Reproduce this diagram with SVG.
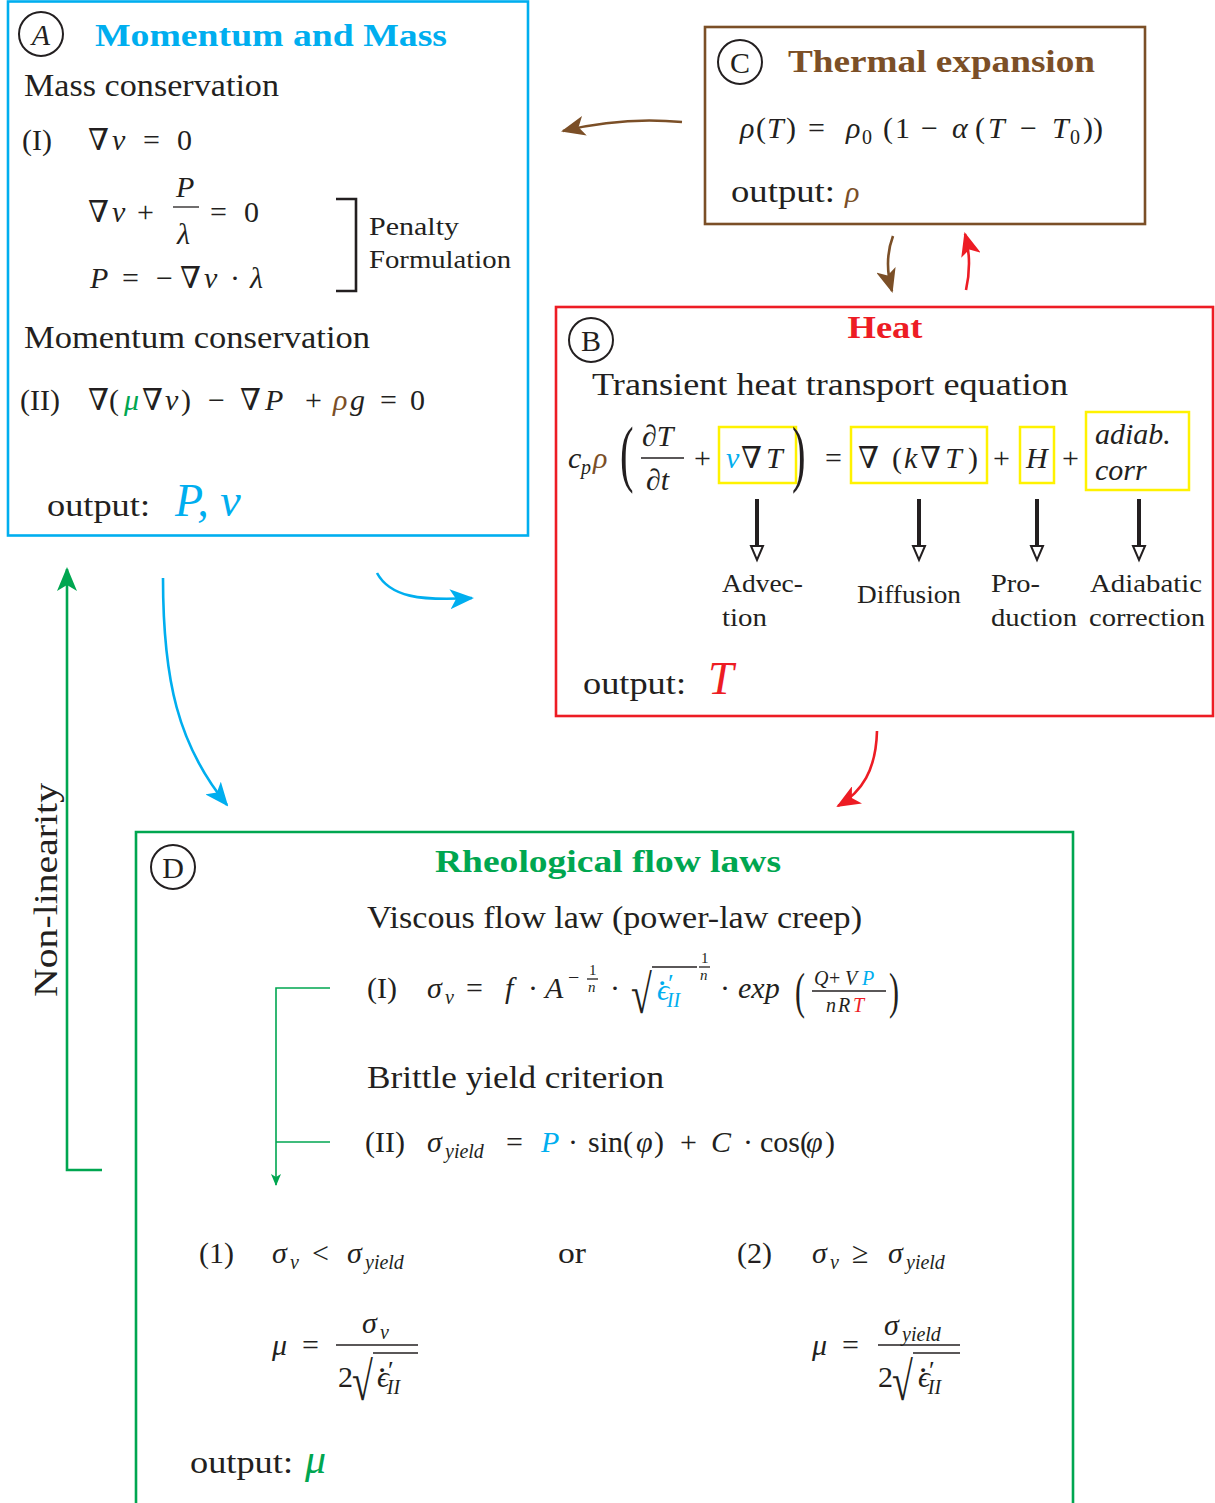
<svg xmlns="http://www.w3.org/2000/svg" width="1215" height="1503" viewBox="0 0 1215 1503">
<defs>
<style>
text{font-family:"Liberation Serif","DejaVu Serif",serif;fill:#231f20;font-size:30px}
.i{font-style:italic}
.h{font-weight:bold;font-size:31px}
.p{font-size:31px}
.s{font-size:20px}
.xs{font-size:15px}
.lab{font-size:25px}
.cy{fill:#00AEEF}
.br{fill:#7B4F27}
.rd{fill:#ED1C24}
.gr{fill:#00A650}
.circ{fill:none;stroke:#231f20;stroke-width:2}
.fr{stroke:#231f20;stroke-width:1.3}
.yb{fill:none;stroke:#FFF200;stroke-width:2.5}
.conn{fill:none;stroke-width:2.6}
.dot{font-size:24px;font-weight:bold}
.pr{font-size:26px;font-style:normal}
</style>
<marker id="ahC" viewBox="0 0 24 20" refX="22" refY="10" markerWidth="24" markerHeight="20" markerUnits="userSpaceOnUse" orient="auto"><path d="M0,0 L24,10 L0,20 L6,10 z" fill="#00AEEF"/></marker>
<marker id="ahB" viewBox="0 0 24 20" refX="22" refY="10" markerWidth="24" markerHeight="20" markerUnits="userSpaceOnUse" orient="auto"><path d="M0,0 L24,10 L0,20 L6,10 z" fill="#7B4F27"/></marker>
<marker id="ahR" viewBox="0 0 24 20" refX="22" refY="10" markerWidth="24" markerHeight="20" markerUnits="userSpaceOnUse" orient="auto"><path d="M0,0 L24,10 L0,20 L6,10 z" fill="#ED1C24"/></marker>
<marker id="ahG" viewBox="0 0 24 20" refX="22" refY="10" markerWidth="24" markerHeight="20" markerUnits="userSpaceOnUse" orient="auto"><path d="M0,0 L24,10 L0,20 L6,10 z" fill="#00A650"/></marker>
<marker id="ahGs" viewBox="0 0 12 10" refX="11" refY="5" markerWidth="12" markerHeight="10" markerUnits="userSpaceOnUse" orient="auto"><path d="M0,0 L12,5 L0,10 L3,5 z" fill="#00A650"/></marker>
</defs>
<rect width="1215" height="1503" fill="#fff"/>

<g id="nodeA">
<rect x="8" y="1.5" width="520" height="534" fill="none" stroke="#00AEEF" stroke-width="2.6"/>
<circle class="circ" cx="41" cy="34" r="22"/>
<text class="i" x="41" y="45" text-anchor="middle">A</text>
<text class="h cy" x="95" y="46" textLength="352" lengthAdjust="spacingAndGlyphs">Momentum and Mass</text>
<text class="p" x="24" y="96" textLength="255" lengthAdjust="spacingAndGlyphs">Mass conservation</text>
<text x="22" y="150">(I)</text>
<text x="88" y="150">∇</text><text class="i" x="112" y="150">v</text><text x="143" y="150">=</text><text x="177" y="150">0</text>
<text x="88" y="222">∇</text><text class="i" x="112" y="222">v</text><text x="137" y="222">+</text>
<text class="i" x="176" y="197">P</text><line class="fr" x1="173" y1="207" x2="199" y2="207"/><text class="i" x="177" y="244">λ</text>
<text x="210" y="222">=</text><text x="244" y="222">0</text>
<text class="i" x="90" y="288">P</text><text x="122" y="288">=</text><text x="156" y="288">−</text><text x="180" y="288">∇</text><text class="i" x="204" y="288">v</text><text x="230" y="288">·</text><text class="i" x="250" y="288">λ</text>
<path d="M336,199 H356 V291 H336" fill="none" stroke="#231f20" stroke-width="2.6"/>
<text class="lab" x="369" y="235" textLength="90" lengthAdjust="spacingAndGlyphs">Penalty</text>
<text class="lab" x="369" y="268" textLength="142" lengthAdjust="spacingAndGlyphs">Formulation</text>
<text class="p" x="24" y="348" textLength="346" lengthAdjust="spacingAndGlyphs">Momentum conservation</text>
<text x="20" y="410">(II)</text>
<text x="88" y="410">∇(</text><text class="i gr" x="124" y="410">μ</text><text x="142" y="410">∇</text><text class="i" x="165" y="410">v</text><text x="181" y="410">)</text>
<text x="208" y="410">−</text><text x="240" y="410">∇</text><text class="i" x="265" y="410">P</text><text x="305" y="410">+</text><text class="i br" x="333" y="410">ρ</text><text class="i" x="350" y="410">g</text><text x="380" y="410">=</text><text x="410" y="410">0</text>
<text class="p" x="47" y="516" textLength="103" lengthAdjust="spacingAndGlyphs">output:</text>
<text class="i cy" x="175" y="516" style="font-size:46px">P, v</text>
</g>

<g id="nodeC">
<rect x="705" y="27" width="440" height="197" fill="none" stroke="#7B4F27" stroke-width="2.6"/>
<circle class="circ" cx="740" cy="62" r="22"/>
<text x="740" y="73" text-anchor="middle">C</text>
<text class="h br" x="788" y="72" textLength="307" lengthAdjust="spacingAndGlyphs">Thermal expansion</text>
<text class="i" x="740" y="138">ρ</text><text x="756" y="138">(</text><text class="i" x="767" y="138">T</text><text x="786" y="138">)</text><text x="808" y="138">=</text>
<text class="i" x="846" y="138">ρ</text><text class="s" x="862" y="144">0</text><text x="883" y="138">(</text><text x="895" y="138">1</text><text x="921" y="138">−</text><text class="i" x="952" y="138">α</text><text x="975" y="138">(</text><text class="i" x="988" y="138">T</text><text x="1020" y="138">−</text><text class="i" x="1052" y="138">T</text><text class="s" x="1070" y="144">0</text><text x="1083" y="138">))</text>
<text class="p" x="731" y="202" textLength="104" lengthAdjust="spacingAndGlyphs">output:</text><text class="i br" x="845" y="202">ρ</text>
</g>

<g id="nodeB">
<rect x="556" y="307" width="657" height="409" fill="none" stroke="#ED1C24" stroke-width="2.6"/>
<circle class="circ" cx="591" cy="340" r="22"/>
<text x="591" y="351" text-anchor="middle">B</text>
<text class="h rd" x="885" y="338" text-anchor="middle" textLength="75" lengthAdjust="spacingAndGlyphs">Heat</text>
<text class="p" x="592" y="395" textLength="476" lengthAdjust="spacingAndGlyphs">Transient heat transport equation</text>
<text class="i" x="568" y="468">c</text><text class="i s" x="581" y="474">p</text><text class="i br" x="593" y="468">ρ</text>
<text x="620" y="478" transform="translate(620,478) scale(0.55,1) translate(-620,-478)" style="font-size:74px">(</text>
<text class="i" x="642" y="446">∂T</text><line class="fr" x1="641" y1="458" x2="684" y2="458"/><text class="i" x="646" y="490">∂t</text>
<text x="694" y="468">+</text>
<rect class="yb" x="719" y="427" width="77" height="56"/>
<text class="i cy" x="726" y="468">v</text><text x="741" y="468">∇</text><text class="i" x="766" y="468">T</text>
<text x="792" y="478" transform="translate(792,478) scale(0.55,1) translate(-792,-478)" style="font-size:74px">)</text>
<text x="825" y="468">=</text>
<rect class="yb" x="851" y="427" width="136" height="56"/>
<text x="858" y="468">∇</text><text x="892" y="468">(</text><text class="i" x="904" y="468">k</text><text x="920" y="468">∇</text><text class="i" x="945" y="468">T</text><text x="968" y="468">)</text>
<text x="993" y="468">+</text>
<rect class="yb" x="1020" y="427" width="34" height="56"/>
<text class="i" x="1026" y="468">H</text>
<text x="1062" y="468">+</text>
<rect class="yb" x="1086" y="412" width="103" height="78"/>
<text class="i" x="1095" y="444">adiab.</text><text class="i" x="1095" y="480">corr</text>
<g stroke="#231f20">
<line x1="757" y1="499" x2="757" y2="546" stroke-width="4"/><polygon points="751,546 763,546 757,560" fill="#fff" stroke-width="2"/>
<line x1="919" y1="499" x2="919" y2="546" stroke-width="4"/><polygon points="913,546 925,546 919,560" fill="#fff" stroke-width="2"/>
<line x1="1037" y1="499" x2="1037" y2="546" stroke-width="4"/><polygon points="1031,546 1043,546 1037,560" fill="#fff" stroke-width="2"/>
<line x1="1139" y1="499" x2="1139" y2="546" stroke-width="4"/><polygon points="1133,546 1145,546 1139,560" fill="#fff" stroke-width="2"/>
</g>
<text class="lab" x="722" y="592" textLength="81" lengthAdjust="spacingAndGlyphs">Advec-</text>
<text class="lab" x="722" y="626" textLength="45" lengthAdjust="spacingAndGlyphs">tion</text>
<text class="lab" x="857" y="603" textLength="104" lengthAdjust="spacingAndGlyphs">Diffusion</text>
<text class="lab" x="991" y="592" textLength="49" lengthAdjust="spacingAndGlyphs">Pro-</text>
<text class="lab" x="991" y="626" textLength="86" lengthAdjust="spacingAndGlyphs">duction</text>
<text class="lab" x="1090" y="592" textLength="112" lengthAdjust="spacingAndGlyphs">Adiabatic</text>
<text class="lab" x="1089" y="626" textLength="116" lengthAdjust="spacingAndGlyphs">correction</text>
<text class="p" x="583" y="694" textLength="103" lengthAdjust="spacingAndGlyphs">output:</text>
<text class="i rd" x="708" y="694" style="font-size:46px">T</text>
</g>

<g id="nodeD">
<path d="M136,1503 V832 H1073 V1503" fill="none" stroke="#00A650" stroke-width="2.6"/>
<circle class="circ" cx="173" cy="867" r="22"/>
<text x="173" y="878" text-anchor="middle">D</text>
<text class="h gr" x="435" y="872" textLength="346" lengthAdjust="spacingAndGlyphs">Rheological flow laws</text>
<text class="p" x="367" y="928" textLength="495" lengthAdjust="spacingAndGlyphs">Viscous flow law (power-law creep)</text>
<text x="367" y="998">(I)</text>
<text class="i" x="427" y="998">σ</text><text class="i s" x="445" y="1004">v</text><text x="466" y="998">=</text><text class="i" x="505" y="998">f</text><text x="528" y="998">·</text><text class="i" x="545" y="998">A</text>
<text class="s" x="568" y="984">−</text><text class="xs" x="589" y="975">1</text><line class="fr" x1="587" y1="979" x2="598" y2="979" stroke-width="1"/><text class="i xs" x="588" y="992">n</text>
<text x="610" y="998">·</text>
<text x="631" y="1013" transform="translate(631,1013) scale(1,1.42) translate(-631,-1013)" style="font-size:38px">√</text><line class="fr" x1="652" y1="967" x2="697" y2="967"/>
<text class="i cy" x="657" y="1000">ϵ<tspan class="dot" dx="-9" dy="-15">.</tspan><tspan class="pr" dx="2" dy="7">′</tspan><tspan class="s" dx="-7" dy="15">II</tspan></text>
<text class="xs" x="701" y="963">1</text><line class="fr" x1="699" y1="967" x2="710" y2="967" stroke-width="1"/><text class="i xs" x="700" y="980">n</text>
<text x="720" y="998">·</text><text class="i" x="738" y="998">exp</text>
<text x="795" y="1008" transform="translate(795,1008) scale(0.6,1) translate(-795,-1008)" style="font-size:50px">(</text>
<text class="i s" x="814" y="985">Q</text><text class="s" x="829" y="985">+</text><text class="i s" x="845" y="985">V</text><text class="i s cy" x="862" y="985">P</text>
<line class="fr" x1="812" y1="991" x2="886" y2="991"/>
<text class="i s" x="826" y="1012">n</text><text class="i s" x="838" y="1012">R</text><text class="i s rd" x="853" y="1012">T</text>
<text x="889" y="1008" transform="translate(889,1008) scale(0.6,1) translate(-889,-1008)" style="font-size:50px">)</text>
<text class="p" x="367" y="1088" textLength="297" lengthAdjust="spacingAndGlyphs">Brittle yield criterion</text>
<text x="365" y="1152">(II)</text>
<text class="i" x="427" y="1152">σ</text><text class="i s" x="445" y="1158">yield</text><text x="506" y="1152">=</text>
<text class="i cy" x="541" y="1152">P</text><text x="568" y="1152">·</text><text x="588" y="1152">sin(</text><text class="i" x="636" y="1152">φ</text><text x="654" y="1152">)</text>
<text x="680" y="1152">+</text><text class="i" x="711" y="1152">C</text><text x="743" y="1152">·</text><text x="760" y="1152">cos(</text><text class="i" x="806" y="1152">φ</text><text x="825" y="1152">)</text>

<text x="199" y="1263">(1)</text>
<text class="i" x="272" y="1263">σ</text><text class="i s" x="290" y="1269">v</text><text x="312" y="1263">&lt;</text><text class="i" x="347" y="1263">σ</text><text class="i s" x="365" y="1269">yield</text>
<text x="558" y="1263" textLength="28" lengthAdjust="spacingAndGlyphs">or</text>
<text x="737" y="1263">(2)</text>
<text class="i" x="812" y="1263">σ</text><text class="i s" x="830" y="1269">v</text><text x="852" y="1263">≥</text><text class="i" x="888" y="1263">σ</text><text class="i s" x="906" y="1269">yield</text>

<text class="i" x="272" y="1355">μ</text><text x="302" y="1355">=</text>
<text class="i" x="362" y="1333">σ</text><text class="i s" x="380" y="1339">v</text>
<line class="fr" x1="336" y1="1345" x2="418" y2="1345"/>
<text x="338" y="1387">2</text>
<text x="352" y="1400" transform="translate(352,1400) scale(1,1.42) translate(-352,-1400)" style="font-size:38px">√</text><line class="fr" x1="373" y1="1353" x2="418" y2="1353"/>
<text class="i" x="377" y="1387">ϵ<tspan class="dot" dx="-9" dy="-15">.</tspan><tspan class="pr" dx="2" dy="7">′</tspan><tspan class="s" dx="-7" dy="15">II</tspan></text>

<text class="i" x="812" y="1355">μ</text><text x="842" y="1355">=</text>
<text class="i" x="884" y="1335">σ</text><text class="i s" x="902" y="1341">yield</text>
<line class="fr" x1="878" y1="1345" x2="960" y2="1345"/>
<text x="878" y="1387">2</text>
<text x="892" y="1400" transform="translate(892,1400) scale(1,1.42) translate(-892,-1400)" style="font-size:38px">√</text><line class="fr" x1="913" y1="1353" x2="960" y2="1353"/>
<text class="i" x="918" y="1387">ϵ<tspan class="dot" dx="-9" dy="-15">.</tspan><tspan class="pr" dx="2" dy="7">′</tspan><tspan class="s" dx="-7" dy="15">II</tspan></text>

<text class="p" x="190" y="1473" textLength="103" lengthAdjust="spacingAndGlyphs">output:</text>
<text class="i gr" x="305" y="1473" style="font-size:42px">μ</text>
</g>

<g id="connectors">
<path class="conn" d="M682,122 C640,118 600,122 563,131" stroke="#7B4F27" marker-end="url(#ahB)"/>
<path class="conn" d="M893,236 C887,252 886,270 892,291" stroke="#7B4F27" marker-end="url(#ahB)"/>
<path class="conn" d="M966,290 C970,272 970,252 965,234" stroke="#ED1C24" marker-end="url(#ahR)"/>
<path class="conn" d="M377,573 C390,597 420,601 472,598" stroke="#00AEEF" marker-end="url(#ahC)"/>
<path class="conn" d="M163,578 C163,680 178,745 227,805" stroke="#00AEEF" marker-end="url(#ahC)"/>
<path class="conn" d="M877,731 C876,770 862,792 838,806" stroke="#ED1C24" marker-end="url(#ahR)"/>
<path class="conn" d="M102,1170 H67 V569" stroke="#00A650" marker-end="url(#ahG)"/>
<path d="M330,988 H276 V1185" fill="none" stroke="#00A650" stroke-width="1.6" marker-end="url(#ahGs)"/>
<path d="M330,1142 H276" fill="none" stroke="#00A650" stroke-width="1.6"/>
<text class="p" x="57" y="997" transform="rotate(-90 57 997)" textLength="214" lengthAdjust="spacingAndGlyphs" style="font-size:33px">Non-linearity</text>
</g>
</svg>
